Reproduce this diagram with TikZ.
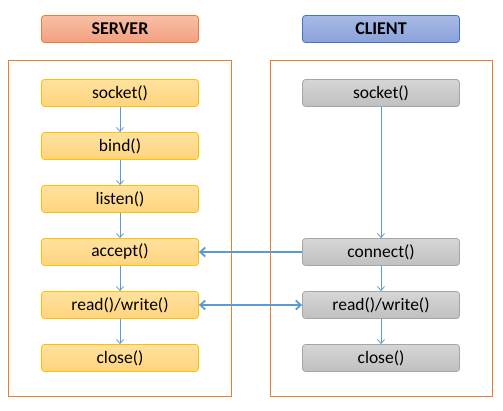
\documentclass[tikz,border=0pt]{standalone}
\usepackage{fontspec}
\setmainfont{Carlito}
\usetikzlibrary{arrows.meta}
\definecolor{sfill1}{HTML}{FFE29E}
\definecolor{sfill2}{HTML}{FFD47E}
\definecolor{sborder}{HTML}{FFC000}
\definecolor{cfill1}{HTML}{D6D6D6}
\definecolor{cfill2}{HTML}{C0C0C0}
\definecolor{cborder}{HTML}{A5A5A5}
\definecolor{shfill1}{HTML}{F8BFA6}
\definecolor{shfill2}{HTML}{F3A07F}
\definecolor{shborder}{HTML}{ED7D31}
\definecolor{chfill1}{HTML}{A8B9E4}
\definecolor{chfill2}{HTML}{8AA2DA}
\definecolor{chborder}{HTML}{4472C4}
\definecolor{frame}{HTML}{ED7D31}
\definecolor{arr}{HTML}{5B9BD5}
\tikzset{
  x=1pt,y=-1pt,
  base/.style={minimum width=157pt,minimum height=27pt,rounded corners=3pt,inner sep=0pt,font=\fontsize{17.5}{18}\selectfont,line width=0.8pt},
  sbox/.style={base,draw=sborder,top color=sfill1,bottom color=sfill2},
  cbox/.style={base,draw=cborder,top color=cfill1,bottom color=cfill2},
  shead/.style={base,draw=shborder,top color=shfill1,bottom color=shfill2,font=\fontsize{18}{18}\selectfont\bfseries},
  chead/.style={base,draw=chborder,top color=chfill1,bottom color=chfill2,font=\fontsize{18}{18}\selectfont\bfseries},
  vflow/.style={draw=arr,line width=0.8pt,-{Straight Barb[length=4pt,width=7pt]}},
  hflow/.style={draw=arr,line width=1.8pt,-{Straight Barb[length=5pt,width=9pt]}},
  hflow2/.style={draw=arr,line width=1.8pt,{Straight Barb[length=5pt,width=9pt]}-{Straight Barb[length=5pt,width=9pt]}},
  framebox/.style={draw=frame,line width=1pt}
}
\begin{document}
\begin{tikzpicture}
\useasboundingbox (0,0) rectangle (503,411);
\draw[framebox] (8,61) rectangle (231,396);
\draw[framebox] (270,61) rectangle (492,396);
\node[shead] (sh) at (120,29) {SERVER};
\node[chead] (ch) at (381,29) {CLIENT};
\node[sbox] (ssock) at (120,93) {socket()};
\node[sbox] (sbind) at (120,146) {bind()};
\node[sbox] (slist) at (120,199) {listen()};
\node[sbox] (sacc) at (120,252) {accept()};
\node[sbox] (srw) at (120,305) {read()/write()};
\node[sbox] (sclose) at (120,358) {close()};
\node[cbox] (csock) at (381,93) {socket()};
\node[cbox] (cconn) at (381,252) {connect()};
\node[cbox] (crw) at (381,305) {read()/write()};
\node[cbox] (cclose) at (381,358) {close()};
\draw[vflow] (ssock) -- (sbind);
\draw[vflow] (sbind) -- (slist);
\draw[vflow] (slist) -- (sacc);
\draw[vflow] (sacc) -- (srw);
\draw[vflow] (srw) -- (sclose);
\draw[vflow] (csock) -- (cconn);
\draw[vflow] (cconn) -- (crw);
\draw[vflow] (crw) -- (cclose);
\draw[hflow] (cconn) -- (sacc);
\draw[hflow2] (srw) -- (crw);
\end{tikzpicture}
\end{document}
